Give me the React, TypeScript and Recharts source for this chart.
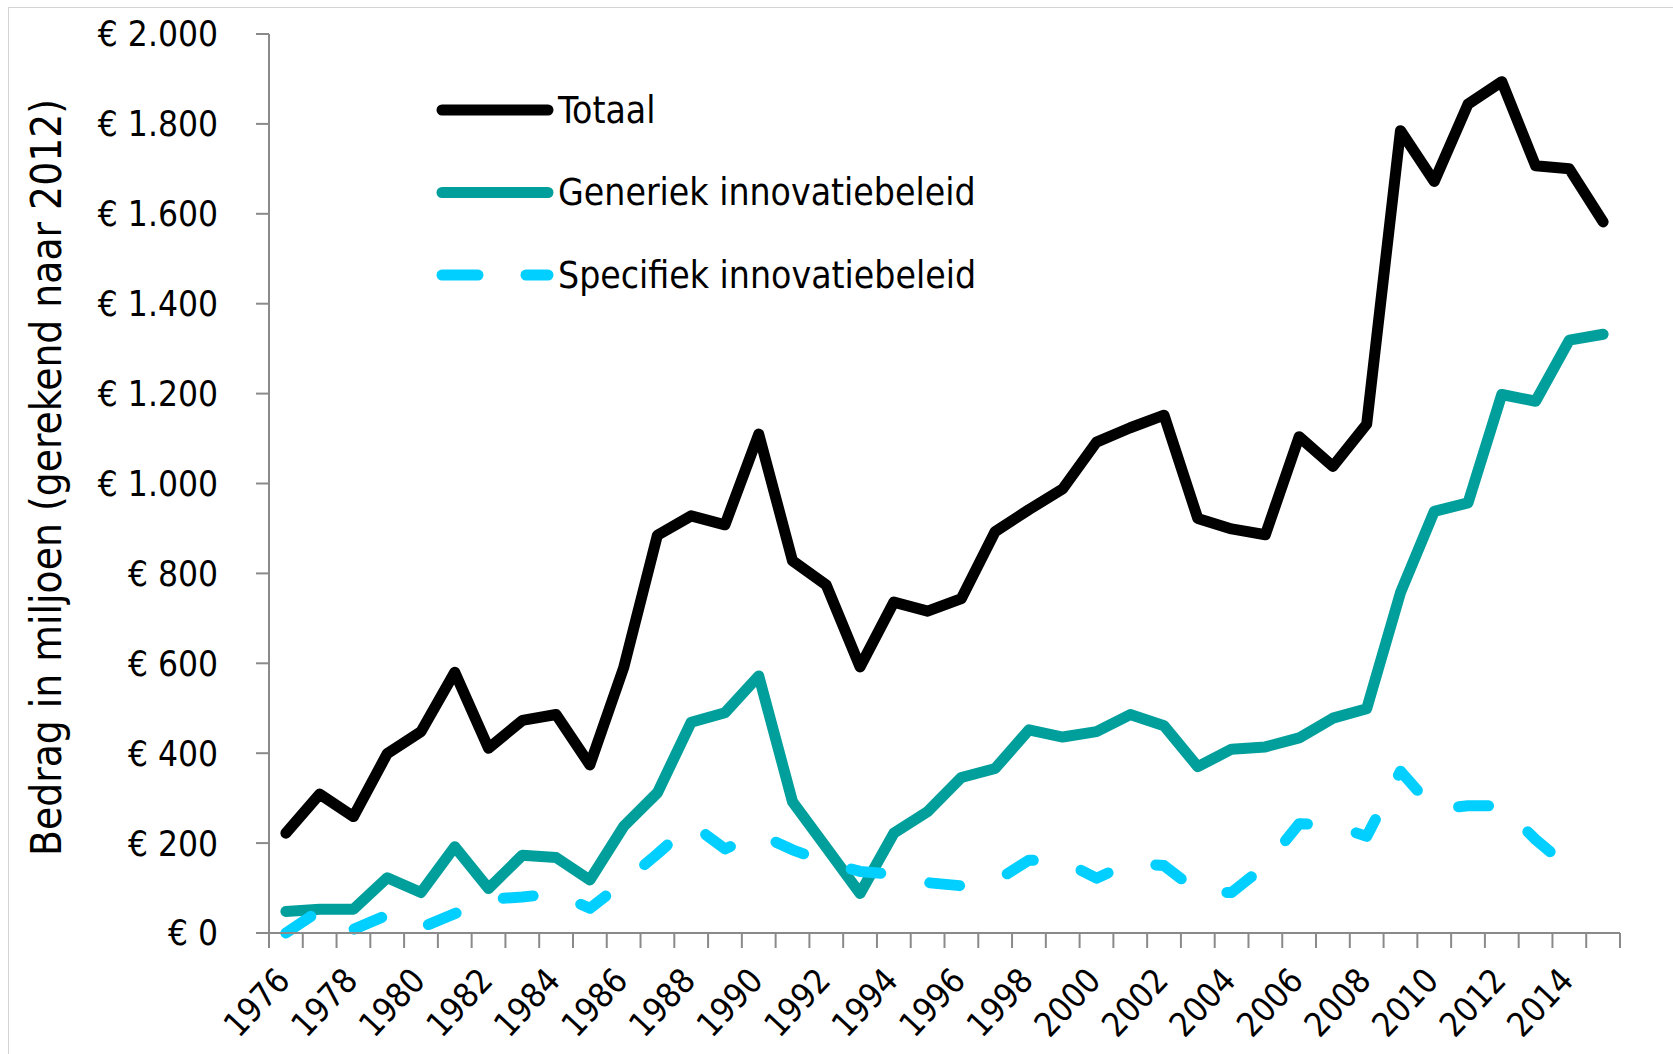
import { LineChart, Line, XAxis, YAxis, Legend } from "recharts";

const YEARS = [
  1976, 1977, 1978, 1979, 1980, 1981, 1982, 1983, 1984, 1985,
  1986, 1987, 1988, 1989, 1990, 1991, 1992, 1993, 1994, 1995,
  1996, 1997, 1998, 1999, 2000, 2001, 2002, 2003, 2004, 2005,
  2006, 2007, 2008, 2009, 2010, 2011, 2012, 2013, 2014, 2015,
];

const TOTAAL = [
  222, 309, 259, 399, 448, 580, 411, 473, 486, 374,
  590, 885, 928, 908, 1110, 828, 774, 592, 736, 716,
  744, 893, 942, 988, 1092, 1124, 1152, 922, 899, 886,
  1104, 1038, 1132, 1785, 1672, 1844, 1894, 1707, 1700, 1582,
];

const GENERIEK = [
  48, 53, 53, 123, 90, 192, 99, 173, 168, 118,
  237, 312, 469, 490, 572, 292, 190, 88, 222, 270,
  346, 366, 452, 436, 448, 486, 461, 370, 409, 414,
  434, 478, 499, 757, 938, 957, 1198, 1183, 1319, 1332,
];

const SPECIFIEK = [
  0, 50, 8, 40, 12, 43, 75, 80, 88, 55,
  113, 176, 243, 187, 220, 185, 158, 137, 130, 112,
  105, 115, 162, 160, 122, 156, 150, 92, 90, 150,
  243, 240, 215, 360, 275, 283, 283, 208, 145, null,
];

const Y_TICKS = [0, 200, 400, 600, 800, 1000, 1200, 1400, 1600, 1800, 2000];
const LABEL_YEARS = [1976, 1978, 1980, 1982, 1984, 1986, 1988, 1990, 1992, 1994, 1996, 1998, 2000, 2002, 2004, 2006, 2008, 2010, 2012, 2014];
const BOUNDARY_TICKS = [
  1975.5, 1976.5, 1977.5, 1978.5, 1979.5, 1980.5, 1981.5, 1982.5, 1983.5, 1984.5,
  1985.5, 1986.5, 1987.5, 1988.5, 1989.5, 1990.5, 1991.5, 1992.5, 1993.5, 1994.5,
  1995.5, 1996.5, 1997.5, 1998.5, 1999.5, 2000.5, 2001.5, 2002.5, 2003.5, 2004.5,
  2005.5, 2006.5, 2007.5, 2008.5, 2009.5, 2010.5, 2011.5, 2012.5, 2013.5, 2014.5,
  2015.5,
];

const SERIES = [
  { key: "totaal", name: "Totaal", color: "#000000", dash: undefined as string | undefined },
  { key: "generiek", name: "Generiek innovatiebeleid", color: "#009f9b", dash: undefined as string | undefined },
  { key: "specifiek", name: "Specifiek innovatiebeleid", color: "#00cfff", dash: "30 50" },
];

const data = YEARS.map((year, i) => ({
  year,
  totaal: TOTAAL[i],
  generiek: GENERIEK[i],
  specifiek: SPECIFIEK[i],
}));

const FONT = "'DejaVu Sans Condensed', 'DejaVu Sans', sans-serif";
const AXIS_GRAY = "#8a8a8a";

const euro = (v: number) => "€ " + String(v).replace(/\B(?=(\d{3})+(?!\d))/g, ".");

// rotated year labels, anchored just right of the category centre
function YearTick({ x, y, payload }: any) {
  const ax = x + 6;
  const ay = y + 48;
  return (
    <text
      x={ax}
      y={ay}
      textAnchor="end"
      fontFamily={FONT}
      fontSize={34}
      fill="#000"
      transform={`rotate(-47 ${ax} ${ay})`}
    >
      {payload.value}
    </text>
  );
}

function YTitle({ viewBox }: any) {
  const cx = 37;
  const cy = viewBox.y + viewBox.height / 2 - 6;
  return (
    <text
      x={cx}
      y={cy}
      textAnchor="middle"
      dominantBaseline="central"
      fontFamily={FONT}
      fontSize={42}
      fill="#000"
      transform={`rotate(-90 ${cx} ${cy})`}
    >
      Bedrag in miljoen (gerekend naar 2012)
    </text>
  );
}

function LegendBox() {
  return (
    <svg width={620} height={240} style={{ display: "block" }}>
      {SERIES.map((s, i) => {
        const y = 41 + i * 82.5;
        return (
          <g key={s.key}>
            <line
              x1={18}
              x2={124}
              y1={y}
              y2={y}
              stroke={s.color}
              strokeWidth={11}
              strokeLinecap="round"
              strokeDasharray={s.key === "specifiek" ? "36 48" : undefined}
            />
            <text x={134} y={y} dominantBaseline="central" fontFamily={FONT} fontSize={37} fill="#000">
              {s.name}
            </text>
          </g>
        );
      })}
    </svg>
  );
}

export default function App() {
  return (
    <div
      style={{
        position: "absolute",
        left: 8,
        top: 7,
        width: 1665,
        height: 1047,
        borderTop: "1px solid #d4d4d4",
        borderLeft: "1px solid #d4d4d4",
        boxSizing: "border-box",
        background: "#fff",
        overflow: "hidden",
      }}
    >
      <LineChart width={1664} height={1046} data={data} margin={{ top: 26, right: 53, left: 0, bottom: 0 }}>
        <XAxis
          xAxisId="grid"
          dataKey="year"
          type="number"
          domain={[1975.5, 2015.5]}
          ticks={BOUNDARY_TICKS}
          interval={0}
          height={1}
          tickSize={15}
          tick={() => <g />}
          axisLine={{ stroke: AXIS_GRAY, strokeWidth: 2 }}
          tickLine={{ stroke: AXIS_GRAY, strokeWidth: 2 }}
        />
        <XAxis
          xAxisId="labels"
          dataKey="year"
          type="number"
          domain={[1975.5, 2015.5]}
          ticks={LABEL_YEARS}
          interval={0}
          height={120}
          tickSize={0}
          tickMargin={0}
          axisLine={false}
          tickLine={false}
          tick={<YearTick />}
        />
        <YAxis
          domain={[0, 2000]}
          ticks={Y_TICKS}
          interval={0}
          width={260}
          tickSize={13}
          tickMargin={38}
          tickFormatter={euro}
          tick={{ fontFamily: FONT, fontSize: 35, fill: "#000" }}
          axisLine={{ stroke: AXIS_GRAY, strokeWidth: 2 }}
          tickLine={{ stroke: AXIS_GRAY, strokeWidth: 2 }}
          label={<YTitle />}
        />
        <Legend
          layout="vertical"
          align="center"
          verticalAlign="middle"
          content={() => <LegendBox />}
          wrapperStyle={{ position: "absolute", left: 415, top: 61, width: 620, height: 240 }}
        />
        {SERIES.map((s) => (
          <Line
            key={s.key}
            xAxisId="grid"
            type="linear"
            dataKey={s.key}
            name={s.name}
            stroke={s.color}
            strokeWidth={11}
            strokeDasharray={s.dash}
            strokeLinecap="round"
            strokeLinejoin="round"
            dot={false}
            activeDot={false}
            isAnimationActive={false}
          />
        ))}
      </LineChart>
    </div>
  );
}
